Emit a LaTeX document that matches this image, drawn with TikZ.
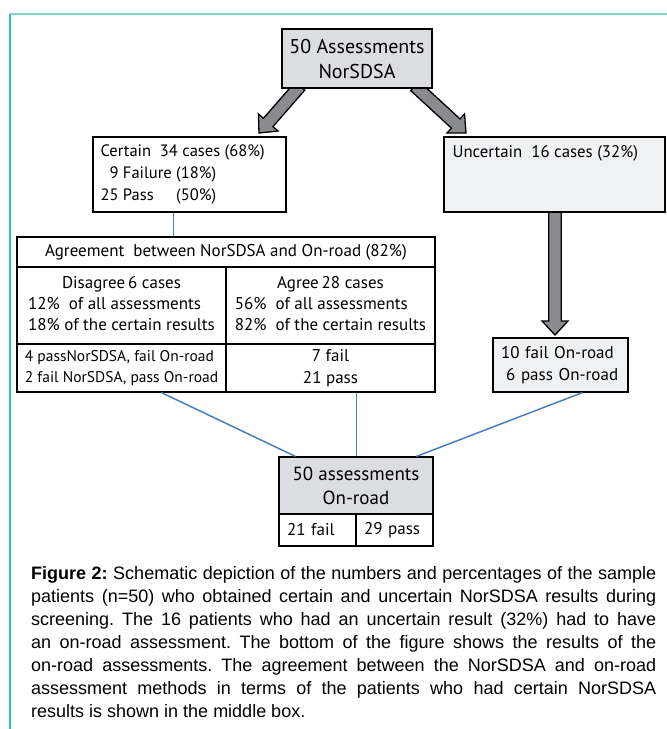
\documentclass[tikz,border=0pt]{standalone}
\usepackage{fontspec}
\setmainfont{PT Sans}
\newfontfamily\capfont{Liberation Sans}
\usetikzlibrary{calc,backgrounds}
\definecolor{tealtop}{HTML}{7DD8CA}
\definecolor{tealleft}{HTML}{2EC4A9}
\definecolor{boxgray}{HTML}{DCDDE0}
\definecolor{boxlight}{HTML}{F0F1F3}
\definecolor{arrgray}{HTML}{8A8B8E}
\definecolor{linkblue}{HTML}{4A7EC0}
\newcommand\fatarrowpath[2]{%
  \coordinate (h#1) at ($(#2)!14pt!(#1)$);
  \draw[fatarrow] ($(#1)!6.3pt!90:(#2)$) -- ($(h#1)!6.3pt!-90:(#1)$) -- ($(h#1)!13pt!-90:(#1)$) -- (#2)
     -- ($(h#1)!13pt!90:(#1)$) -- ($(h#1)!6.3pt!90:(#1)$) -- ($(#1)!6.3pt!-90:(#2)$) -- cycle;}
\begin{document}
\begin{tikzpicture}[x=1pt,y=-1pt,
  box/.style={draw=black, line width=1.2pt, inner sep=0pt, font=\fontsize{17}{22}\selectfont},
  bigbox/.style={box, fill=boxgray, align=center},
  lightbox/.style={box, fill=boxlight},
  fatarrow/.style={draw=black, line width=1.3pt, fill=arrgray, line join=miter},
  link/.style={draw=linkblue, line width=1.5pt}]
\useasboundingbox (0,0) rectangle (667,729);
% frame
\draw[tealtop, line width=1.5pt] (10,14) -- (667,14);
\draw[tealleft, line width=1.5pt] (10,14) -- (10,729);
% top
\node[bigbox, minimum width=150, minimum height=59, font=\fontsize{20}{25}\selectfont] (top) at (357,58.5) {50 Assessments\\NorSDSA};
% certain
\node[box, minimum width=193, minimum height=75] (cert) at (189.5,174.5) {};
\node[anchor=north west, inner sep=0pt, align=left, font=\fontsize{16.5}{22}\selectfont] (certt) at ($(cert.north west)+(8,8)$)
  {Certain~~34 cases (68\%)\\\phantom{2}9 Failure (18\%)\\25 \rlap{Pass}\phantom{Failure} (50\%)};
% uncertain
\node[lightbox, minimum width=221, minimum height=75] (unc) at (554.5,174.5) {};
\node[anchor=north west, inner sep=0pt, font=\fontsize{16.8}{22}\selectfont] (unct) at ($(unc.north west)+(9,9)$) {Uncertain~~16 cases (32\%)};
% agreement table
\node[box, minimum width=418, minimum height=30] (agr) at (226,252) {Agreement~~between NorSDSA and On-road (82\%)};
\node[box, minimum width=209, minimum height=77] (dis) at (121.5,305.5)
  {\begin{tabular}{@{}l@{}}\multicolumn{1}{@{}c@{}}{Disagree\,6 cases}\\[-1pt]12\%~~of all assessments\\[-1pt]18\%~of the certain results\end{tabular}};
\node[box, minimum width=209, minimum height=77] (agree) at (330.5,305.5)
  {\begin{tabular}{@{}l@{}}\multicolumn{1}{@{}c@{}}{Agree\,28 cases}\\[-1pt]56\%~~of all assessments\\[-1pt]82\%~~of the certain results\end{tabular}};
\node[box, minimum width=209, minimum height=48, align=left, font=\fontsize{15.5}{21}\selectfont] (disb) at (121.5,368)
  {4 passNorSDSA, fail On-road\\2 fail NorSDSA, pass On-road};
\node[box, minimum width=209, minimum height=48, align=center] (agreeb) at (330.5,368) {7 fail\\21 pass};
% ten fail
\node[lightbox, minimum width=135, minimum height=54, text width=119, inner xsep=8pt, align=left] (tenfail) at (560.5,365)
  {10 fail On-road\\\hspace{0.3em}6 pass On-road};
% bottom
\node[bigbox, minimum width=154, minimum height=57, font=\fontsize{19}{24}\selectfont] (bot) at (356,485.5) {50 assessments\\On-road};
\node[box, minimum width=77, minimum height=32, text width=61, inner xsep=8pt, align=left] (botl) at (317.5,530) {21 fail};
\node[box, minimum width=77, minimum height=32, text width=61, inner xsep=8pt, align=left] (botr) at (394.5,530) {29 pass};
% fat arrows
\begin{scope}[on background layer]
\coordinate (aone) at (300,86);
\coordinate (aonee) at (259,133);
\coordinate (atwo) at (415,86);
\coordinate (atwoe) at (466,133);
\coordinate (athree) at (555,211);
\coordinate (athreee) at (555,335);
\fatarrowpath{aone}{aonee}
\fatarrowpath{atwo}{atwoe}
\fatarrowpath{athree}{athreee}
\end{scope}
% blue links
\coordinate (lone) at ($(cert.south west)+(81,0)$);
\draw[link] (lone) -- (lone |- agr.north);
\draw[link] ($(disb.south west)+(145,0)$) -- ($(bot.north west)+(17,0)$);
\draw[link] ($(agreeb.south west)+(131,0)$) -- ($(bot.north west)+(78,0)$);
\draw[link] ($(tenfail.south west)+(90,0)$) -- ($(bot.north west)+(138,0)$);
% caption
\node[anchor=north west, inner sep=0pt, text width=625pt, align=justify,
  font=\capfont\fontsize{18}{23}\selectfont] (cap) at (31,566)
  {\frenchspacing\hyphenpenalty=10000 \exhyphenpenalty=10000 \tolerance=9999 
   {\bfseries Figure 2:} Schematic depiction of the numbers and percentages of the sample\linebreak
   patients (n=50) who obtained certain and uncertain NorSDSA results during\linebreak
   screening. The 16 patients who had an uncertain result (32\%) had to have\linebreak
   an on-road assessment. The bottom of the figure shows the results of the\linebreak
   on-road assessments. The agreement between the NorSDSA and on-road\linebreak
   assessment methods in terms of the patients who had certain NorSDSA\linebreak
   results is shown in the middle box.};
\end{tikzpicture}
\end{document}
